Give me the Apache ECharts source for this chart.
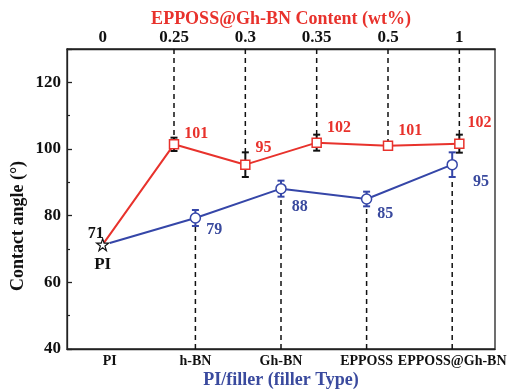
<!DOCTYPE html>
<html><head><meta charset="utf-8">
<script src="https://cdn.jsdelivr.net/npm/echarts@6/dist/echarts.min.js"></script>
<style>html,body{margin:0;padding:0;background:#fff}#c{width:508px;height:389px}</style>
</head><body><div id="c"></div>
<script>
// ---- data ----
const topCats = ['0', '0.25', '0.3', '0.35', '0.5', '1'];
const bottomCats = ['PI', 'h-BN', 'Gh-BN', 'EPPOSS', 'EPPOSS@Gh-BN'];
const redVals = [71.3, 101.4, 95.3, 101.9, 101.0, 101.6];
const redErr = [0, 2.0, 3.7, 2.4, 1.1, 2.7];
const blueVals = [71.8, 79.3, 88.1, 85.0, 95.3];
const blueErr = [0, 2.4, 2.4, 2.2, 3.7];
const yMin = 40, yMax = 130, yInterval = 20;

// ---- styles ----
const FONT = "'Liberation Serif','Times New Roman',serif";
const RED = '#e8322c';
const BLUE = '#3546a8';
const BLUE_TXT = '#3a4a9e';
const AX = '#222';
const redLabelOffsets = [[-7, -11], [0, -10], [0, -17], [0, -15], [0, -15], [-2, -21]];
const blueLabelOffsets = [[0, 0], [0, 12], [0, 18], [0, 15], [10, 17]];
const STAR = 'path://M50,2 L61,36 L97,36 L68,57 L79,92 L50,71 L21,92 L32,57 L3,36 L39,36 Z';

const chart = echarts.init(document.getElementById('c'), null, {renderer: 'canvas'});

function errBarRender(color) {
  return function (params, api) {
    const x = api.value(0), v = api.value(1), e = api.value(2);
    if (!e) return null;
    const hi = api.coord([x, v + e]);
    const lo = api.coord([x, v - e]);
    const w = 3.5;
    const st = {stroke: color, lineWidth: 2};
    return {type: 'group', children: [
      {type: 'line', shape: {x1: hi[0], y1: hi[1], x2: lo[0], y2: lo[1]}, style: st},
      {type: 'line', shape: {x1: hi[0] - w, y1: hi[1], x2: hi[0] + w, y2: hi[1]}, style: st},
      {type: 'line', shape: {x1: lo[0] - w, y1: lo[1], x2: lo[0] + w, y2: lo[1]}, style: st}
    ]};
  };
}
function guideRender(toTop) {
  return function (params, api) {
    const x = api.value(0), v = api.value(1), e = api.value(2);
    const cs = params.coordSys;
    const p = api.coord([x, toTop ? v + e : v - e]);
    const yEdge = toTop ? cs.y : cs.y + cs.height;
    return {type: 'line', shape: {x1: p[0], y1: yEdge, x2: p[0], y2: p[1]},
      style: {stroke: '#111', lineWidth: 1.5, lineDash: [5, 4]}};
  };
}

const redData = redVals.map((v, i) => {
  const item = {value: v, label: {offset: redLabelOffsets[i]}};
  if (i === 0) {
    item.symbol = STAR; item.symbolSize = 12;
    item.itemStyle = {color: '#fff', borderColor: '#111', borderWidth: 1.2};
    item.label = {position: 'inside', offset: redLabelOffsets[i], color: '#111', textBorderWidth: 0};
  }
  return item;
});
const blueData = blueVals.map((v, i) => {
  const item = {value: v, label: {offset: blueLabelOffsets[i]}};
  if (i === 0) { item.symbol = 'none'; item.label = {show: false}; }
  return item;
});

const option = {
  animation: false,
  backgroundColor: '#fff',
  grid: {left: 67, right: 13, top: 49, bottom: 40, outerBoundsMode: 'none', containLabel: false,
    show: true, borderColor: AX, borderWidth: 1.3, backgroundColor: 'transparent'},
  xAxis: [
    {
      type: 'category', data: bottomCats, position: 'bottom', boundaryGap: true,
      axisLine: {lineStyle: {color: AX, width: 1.3}},
      axisTick: {inside: true, alignWithLabel: true, length: 5, lineStyle: {color: AX, width: 1.3}},
      axisLabel: {color: '#111', fontFamily: FONT, fontWeight: 'bold', fontSize: 14, margin: 5, interval: 0},
      splitLine: {show: false},
      name: 'PI/filler (filler Type)', nameLocation: 'middle', nameGap: 22, nameMoveOverlap: false,
      nameTextStyle: {color: BLUE_TXT, fontFamily: FONT, fontWeight: 'bold', fontSize: 18}
    },
    {
      type: 'category', data: topCats, position: 'top', boundaryGap: true,
      axisLine: {lineStyle: {color: AX, width: 1.3}},
      axisTick: {inside: true, alignWithLabel: true, length: 5, lineStyle: {color: AX, width: 1.3}},
      axisLabel: {color: '#111', fontFamily: FONT, fontWeight: 'bold', fontSize: 17, margin: 3, interval: 0},
      splitLine: {show: false},
      name: 'EPPOSS@Gh-BN Content (wt%)', nameLocation: 'middle', nameGap: 21, nameMoveOverlap: false,
      nameTextStyle: {color: RED, fontFamily: FONT, fontWeight: 'bold', fontSize: 18}
    }
  ],
  yAxis: {
    type: 'value', min: yMin, max: yMax, interval: yInterval,
    axisLine: {show: true, lineStyle: {color: AX, width: 1.3}},
    axisTick: {show: true, inside: true, length: 5, lineStyle: {color: AX, width: 1.3}},
    minorTick: {show: true, splitNumber: 2, length: 3, lineStyle: {color: AX, width: 1.2}},
    axisLabel: {color: '#111', fontFamily: FONT, fontWeight: 'bold', fontSize: 17, margin: 6, showMaxLabel: false},
    splitLine: {show: false},
    name: 'Contact angle (°)', nameLocation: 'middle', nameGap: 40, nameMoveOverlap: false,
    nameTextStyle: {color: '#111', fontFamily: FONT, fontWeight: 'bold', fontSize: 18, padding: [0, 54, 0, 0]}
  },
  series: [
    {
      type: 'custom', xAxisIndex: 1, z: 1,
      data: redVals.map((v, i) => [i, v, redErr[i]]).slice(1),
      renderItem: guideRender(true), silent: true
    },
    {
      type: 'custom', xAxisIndex: 0, z: 1,
      data: blueVals.map((v, i) => [i, v, blueErr[i]]).slice(1),
      renderItem: guideRender(false), silent: true
    },
    {
      type: 'line', xAxisIndex: 0, data: blueData, z: 3,
      symbol: 'circle', symbolSize: 10, showAllSymbol: true,
      lineStyle: {color: BLUE, width: 2},
      itemStyle: {color: '#fff', borderColor: BLUE, borderWidth: 1.5},
      label: {show: true, position: 'right', color: BLUE_TXT, fontFamily: FONT, fontWeight: 'bold', fontSize: 16,
        formatter: p => Math.round(p.value)}
    },
    {
      type: 'line', xAxisIndex: 1, data: redData, z: 3,
      symbol: 'rect', symbolSize: 9, showAllSymbol: true,
      lineStyle: {color: RED, width: 2},
      itemStyle: {color: '#fff', borderColor: RED, borderWidth: 1.5},
      label: {show: true, position: 'right', color: RED, fontFamily: FONT, fontWeight: 'bold', fontSize: 16,
        formatter: p => Math.round(p.value)}
    },
    {
      type: 'custom', xAxisIndex: 1, z: 2,
      data: redVals.map((v, i) => [i, v, redErr[i]]),
      renderItem: errBarRender('#111'), silent: true
    },
    {
      type: 'custom', xAxisIndex: 0, z: 2,
      data: blueVals.map((v, i) => [i, v, blueErr[i]]),
      renderItem: errBarRender(BLUE), silent: true
    },
    {
      type: 'scatter', xAxisIndex: 1, z: 4,
      data: [[0, redVals[0]]], symbolSize: 0, itemStyle: {color: '#111', opacity: 1},
      label: {show: true, position: 'bottom', distance: 11, formatter: 'PI', color: '#111', opacity: 1,
        textBorderWidth: 0, fontFamily: FONT, fontWeight: 'bold', fontSize: 17}
    }
  ]
};
chart.setOption(option);
</script></body></html>
